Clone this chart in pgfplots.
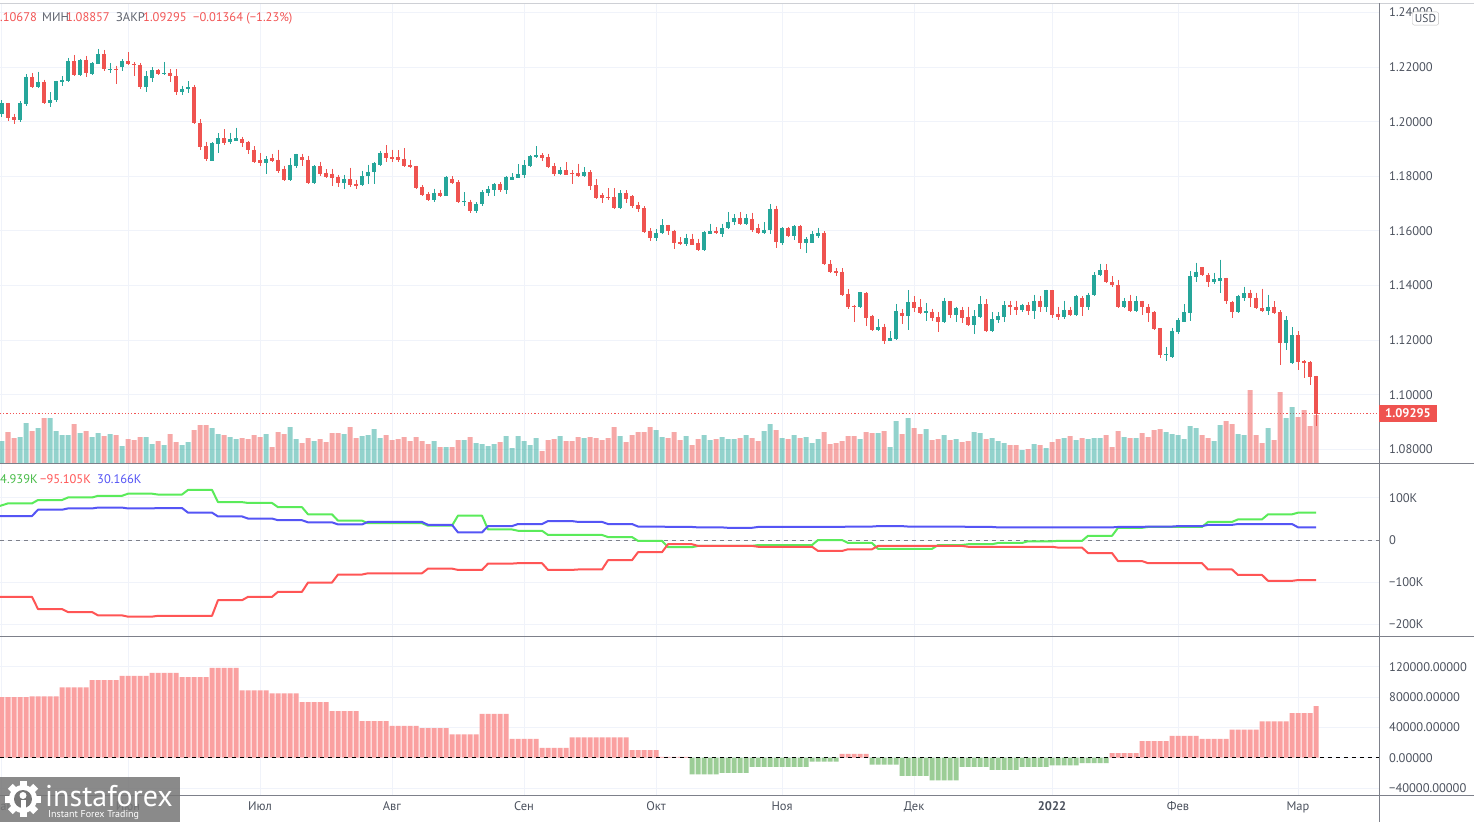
\documentclass[border=0pt]{standalone}
\usepackage{fontspec}
\setmainfont{PT Sans}
\usepackage{pgfplots}
\usepackage{pgfplotstable}
\pgfplotsset{compat=1.18}
\definecolor{cup}{RGB}{38,166,154}
\definecolor{cdn}{RGB}{239,83,80}
\definecolor{gridc}{RGB}{240,243,250}
\definecolor{labc}{RGB}{76,82,94}
\definecolor{sepc}{RGB}{125,128,138}
\definecolor{hpos}{RGB}{250,160,160}
\definecolor{hneg}{RGB}{155,205,150}
\definecolor{lgreen}{RGB}{90,235,90}
\definecolor{lred}{RGB}{255,85,85}
\definecolor{lblue}{RGB}{85,85,245}
\definecolor{txtred}{RGB}{242,85,85}
\definecolor{txtgray}{RGB}{95,99,110}
\definecolor{logogray}{RGB}{118,118,118}

% i open high low close volume(px)
\pgfplotstableread[row sep=\\]{
i o h l c v\\
0 1.2030 1.2078 1.2018 1.2067 22\\
1 1.2067 1.2069 1.2002 1.2013 31\\
2 1.2016 1.2030 1.1991 1.2006 25\\
3 1.2006 1.2074 1.1999 1.2067 26\\
4 1.2063 1.2173 1.2057 1.2165 40\\
5 1.2165 1.2179 1.2124 1.2126 32\\
6 1.2126 1.2183 1.2124 1.2147 35\\
7 1.2147 1.2154 1.2066 1.2068 45\\
8 1.2068 1.2107 1.2053 1.2081 45\\
9 1.2078 1.2150 1.2073 1.2148 32\\
10 1.2144 1.2167 1.2130 1.2152 28\\
11 1.2148 1.2234 1.2146 1.2223 28\\
12 1.2223 1.2245 1.2166 1.2170 39\\
13 1.2170 1.2230 1.2168 1.2227 30\\
14 1.2227 1.2241 1.2162 1.2179 32\\
15 1.2173 1.2218 1.2172 1.2216 26\\
16 1.2213 1.2267 1.2212 1.2248 30\\
17 1.2248 1.2263 1.2184 1.2192 27\\
18 1.2192 1.2215 1.2178 1.2194 29\\
19 1.2194 1.2205 1.2138 1.2191 28\\
20 1.2199 1.2228 1.2184 1.2221 17\\
21 1.2223 1.2255 1.2208 1.2210 24\\
22 1.2213 1.2218 1.2166 1.2206 23\\
23 1.2208 1.2215 1.2121 1.2126 26\\
24 1.2126 1.2185 1.2109 1.2168 26\\
25 1.2159 1.2200 1.2147 1.2189 19\\
26 1.2189 1.2193 1.2170 1.2173 22\\
27 1.2173 1.2219 1.2172 1.2179 18\\
28 1.2179 1.2193 1.2144 1.2166 29\\
29 1.2168 1.2193 1.2097 1.2108 21\\
30 1.2108 1.2132 1.2097 1.2121 18\\
31 1.2119 1.2149 1.2104 1.2128 21\\
32 1.2128 1.2136 1.1993 1.1995 33\\
33 1.1996 1.2009 1.1897 1.1908 38\\
34 1.1910 1.1927 1.1855 1.1864 38\\
35 1.1857 1.1924 1.1855 1.1921 35\\
36 1.1919 1.1958 1.1886 1.1939 29\\
37 1.1939 1.1972 1.1914 1.1923 28\\
38 1.1925 1.1960 1.1920 1.1935 26\\
39 1.1931 1.1978 1.1929 1.1939 24\\
40 1.1935 1.1945 1.1908 1.1921 25\\
41 1.1924 1.1930 1.1881 1.1896 24\\
42 1.1898 1.1910 1.1847 1.1854 28\\
43 1.1858 1.1886 1.1839 1.1847 26\\
44 1.1847 1.1874 1.1810 1.1864 29\\
45 1.1867 1.1883 1.1854 1.1856 16\\
46 1.1861 1.1898 1.1812 1.1821 31\\
47 1.1825 1.1839 1.1784 1.1787 29\\
48 1.1787 1.1867 1.1784 1.1843 36\\
49 1.1839 1.1883 1.1829 1.1880 24\\
50 1.1872 1.1883 1.1839 1.1858 20\\
51 1.1861 1.1876 1.1772 1.1776 25\\
52 1.1776 1.1840 1.1772 1.1837 22\\
53 1.1836 1.1854 1.1800 1.1810 24\\
54 1.1813 1.1825 1.1795 1.1799 21\\
55 1.1810 1.1828 1.1766 1.1795 30\\
56 1.1799 1.1806 1.1759 1.1777 30\\
57 1.1777 1.1806 1.1755 1.1791 29\\
58 1.1791 1.1832 1.1761 1.1769 36\\
59 1.1773 1.1788 1.1755 1.1766 25\\
60 1.1769 1.1821 1.1766 1.1802 27\\
61 1.1800 1.1843 1.1773 1.1817 28\\
62 1.1814 1.1852 1.1773 1.1847 34\\
63 1.1843 1.1893 1.1839 1.1887 25\\
64 1.1887 1.1913 1.1854 1.1866 28\\
65 1.1869 1.1898 1.1854 1.1864 23\\
66 1.1869 1.1896 1.1854 1.1861 24\\
67 1.1865 1.1902 1.1834 1.1837 26\\
68 1.1840 1.1861 1.1831 1.1833 22\\
69 1.1836 1.1839 1.1753 1.1757 26\\
70 1.1762 1.1769 1.1729 1.1733 22\\
71 1.1736 1.1743 1.1710 1.1714 19\\
72 1.1714 1.1755 1.1707 1.1740 22\\
73 1.1740 1.1751 1.1724 1.1729 16\\
74 1.1728 1.1802 1.1726 1.1796 16\\
75 1.1791 1.1800 1.1770 1.1776 16\\
76 1.1778 1.1785 1.1704 1.1706 23\\
77 1.1706 1.1741 1.1693 1.1710 23\\
78 1.1707 1.1715 1.1666 1.1673 26\\
79 1.1673 1.1705 1.1666 1.1700 20\\
80 1.1698 1.1749 1.1690 1.1741 19\\
81 1.1738 1.1763 1.1728 1.1752 17\\
82 1.1749 1.1776 1.1728 1.1771 19\\
83 1.1771 1.1778 1.1744 1.1749 21\\
84 1.1749 1.1802 1.1734 1.1796 27\\
85 1.1788 1.1811 1.1785 1.1796 15\\
86 1.1794 1.1844 1.1793 1.1807 27\\
87 1.1804 1.1859 1.1794 1.1840 22\\
88 1.1838 1.1878 1.1834 1.1873 18\\
89 1.1871 1.1910 1.1867 1.1878 25\\
90 1.1878 1.1885 1.1856 1.1867 12\\
91 1.1870 1.1883 1.1832 1.1834 23\\
92 1.1837 1.1849 1.1800 1.1807 24\\
93 1.1807 1.1834 1.1804 1.1822 27\\
94 1.1822 1.1851 1.1804 1.1806 22\\
95 1.1812 1.1822 1.1771 1.1807 22\\
96 1.1812 1.1846 1.1798 1.1800 26\\
97 1.1800 1.1833 1.1798 1.1815 25\\
98 1.1815 1.1822 1.1749 1.1763 26\\
99 1.1767 1.1790 1.1717 1.1719 25\\
100 1.1730 1.1739 1.1702 1.1719 23\\
101 1.1723 1.1756 1.1715 1.1719 25\\
102 1.1723 1.1756 1.1681 1.1683 36\\
103 1.1683 1.1749 1.1681 1.1738 27\\
104 1.1738 1.1749 1.1702 1.1716 21\\
105 1.1727 1.1730 1.1683 1.1690 28\\
106 1.1694 1.1706 1.1671 1.1679 31\\
107 1.1683 1.1690 1.1593 1.1595 31\\
108 1.1599 1.1610 1.1563 1.1573 36\\
109 1.1573 1.1606 1.1563 1.1591 33\\
110 1.1593 1.1642 1.1587 1.1620 26\\
111 1.1620 1.1623 1.1584 1.1599 25\\
112 1.1601 1.1605 1.1532 1.1554 31\\
113 1.1558 1.1577 1.1549 1.1551 23\\
114 1.1551 1.1590 1.1544 1.1574 27\\
115 1.1572 1.1590 1.1548 1.1550 18\\
116 1.1554 1.1572 1.1527 1.1529 24\\
117 1.1529 1.1600 1.1527 1.1595 28\\
118 1.1590 1.1627 1.1587 1.1598 23\\
119 1.1598 1.1613 1.1590 1.1594 24\\
120 1.1590 1.1627 1.1577 1.1612 26\\
121 1.1610 1.1670 1.1608 1.1634 24\\
122 1.1632 1.1661 1.1620 1.1649 24\\
123 1.1649 1.1670 1.1622 1.1624 25\\
124 1.1624 1.1661 1.1622 1.1649 28\\
125 1.1642 1.1667 1.1595 1.1605 25\\
126 1.1609 1.1627 1.1587 1.1594 22\\
127 1.1594 1.1631 1.1587 1.1605 32\\
128 1.1602 1.1697 1.1587 1.1682 39\\
129 1.1682 1.1693 1.1539 1.1561 33\\
130 1.1557 1.1613 1.1550 1.1610 25\\
131 1.1610 1.1615 1.1578 1.1580 24\\
132 1.1580 1.1621 1.1566 1.1617 28\\
133 1.1617 1.1620 1.1532 1.1554 25\\
134 1.1554 1.1576 1.1518 1.1572 26\\
135 1.1556 1.1598 1.1554 1.1587 20\\
136 1.1583 1.1612 1.1573 1.1594 24\\
137 1.1594 1.1598 1.1476 1.1478 31\\
138 1.1480 1.1492 1.1446 1.1448 19\\
139 1.1452 1.1464 1.1436 1.1445 20\\
140 1.1451 1.1464 1.1360 1.1366 22\\
141 1.1370 1.1388 1.1314 1.1320 27\\
142 1.1324 1.1330 1.1267 1.1320 27\\
143 1.1320 1.1377 1.1316 1.1375 24\\
144 1.1374 1.1376 1.1253 1.1280 31\\
145 1.1289 1.1293 1.1234 1.1236 30\\
146 1.1236 1.1277 1.1232 1.1249 30\\
147 1.1249 1.1260 1.1186 1.1197 32\\
148 1.1197 1.1232 1.1195 1.1207 16\\
149 1.1204 1.1333 1.1202 1.1305 42\\
150 1.1298 1.1314 1.1259 1.1288 29\\
151 1.1288 1.1382 1.1236 1.1338 45\\
152 1.1338 1.1360 1.1303 1.1319 35\\
153 1.1320 1.1349 1.1294 1.1298 29\\
154 1.1298 1.1336 1.1269 1.1306 34\\
155 1.1302 1.1315 1.1269 1.1281 23\\
156 1.1283 1.1302 1.1229 1.1265 24\\
157 1.1265 1.1356 1.1263 1.1342 28\\
158 1.1342 1.1345 1.1280 1.1292 23\\
159 1.1292 1.1323 1.1265 1.1316 24\\
160 1.1309 1.1323 1.1263 1.1280 21\\
161 1.1283 1.1323 1.1253 1.1255 22\\
162 1.1255 1.1309 1.1221 1.1287 31\\
163 1.1284 1.1360 1.1282 1.1331 30\\
164 1.1331 1.1349 1.1231 1.1233 24\\
165 1.1233 1.1302 1.1231 1.1276 25\\
166 1.1272 1.1302 1.1261 1.1287 22\\
167 1.1284 1.1342 1.1265 1.1327 20\\
168 1.1327 1.1345 1.1291 1.1321 18\\
169 1.1323 1.1345 1.1291 1.1309 18\\
170 1.1309 1.1334 1.1302 1.1327 13\\
171 1.1327 1.1338 1.1291 1.1305 14\\
172 1.1305 1.1367 1.1276 1.1345 19\\
173 1.1345 1.1360 1.1302 1.1320 18\\
174 1.1320 1.1385 1.1304 1.1382 15\\
175 1.1382 1.1384 1.1280 1.1291 21\\
176 1.1294 1.1323 1.1272 1.1283 24\\
177 1.1283 1.1345 1.1276 1.1312 25\\
178 1.1312 1.1323 1.1289 1.1291 27\\
179 1.1291 1.1367 1.1289 1.1360 23\\
180 1.1353 1.1360 1.1287 1.1321 25\\
181 1.1320 1.1374 1.1312 1.1367 24\\
182 1.1364 1.1449 1.1362 1.1440 25\\
183 1.1438 1.1480 1.1436 1.1455 25\\
184 1.1455 1.1479 1.1410 1.1412 28\\
185 1.1411 1.1433 1.1394 1.1401 16\\
186 1.1402 1.1421 1.1316 1.1320 32\\
187 1.1320 1.1355 1.1318 1.1342 26\\
188 1.1342 1.1367 1.1303 1.1305 25\\
189 1.1305 1.1360 1.1302 1.1345 25\\
190 1.1342 1.1345 1.1291 1.1321 30\\
191 1.1323 1.1331 1.1265 1.1298 26\\
192 1.1302 1.1305 1.1236 1.1239 33\\
193 1.1243 1.1245 1.1134 1.1146 34\\
194 1.1145 1.1173 1.1124 1.1148 31\\
195 1.1137 1.1246 1.1135 1.1232 29\\
196 1.1229 1.1280 1.1222 1.1272 28\\
197 1.1268 1.1331 1.1266 1.1302 24\\
198 1.1299 1.1452 1.1270 1.1433 37\\
199 1.1430 1.1484 1.1411 1.1451 35\\
200 1.1466 1.1468 1.1433 1.1438 28\\
201 1.1440 1.1445 1.1396 1.1411 25\\
202 1.1411 1.1447 1.1404 1.1422 22\\
203 1.1418 1.1495 1.1374 1.1426 38\\
204 1.1426 1.1429 1.1334 1.1342 42\\
205 1.1338 1.1345 1.1280 1.1302 39\\
206 1.1302 1.1367 1.1300 1.1360 29\\
207 1.1356 1.1396 1.1345 1.1372 28\\
208 1.1371 1.1385 1.1323 1.1354 73\\
209 1.1356 1.1374 1.1314 1.1316 28\\
210 1.1316 1.1389 1.1303 1.1305 20\\
211 1.1305 1.1367 1.1291 1.1323 35\\
212 1.1323 1.1342 1.1296 1.1298 23\\
213 1.1302 1.1309 1.1109 1.1188 71\\
214 1.1188 1.1287 1.1163 1.1272 45\\
215 1.1116 1.1247 1.1114 1.1218 56\\
216 1.1218 1.1232 1.1091 1.1120 46\\
217 1.1123 1.1126 1.1062 1.1115 53\\
218 1.1119 1.1122 1.1036 1.1066 37\\
219 1.10678 1.10700 1.08857 1.09295 48\\
}\candles

% weekly COT positions (thousands)
\pgfplotstableread[row sep=\\]{
x g r b\\
-0.34 81 -135 57\\
1 87 -135 57\\ 5 87 -135 57\\
6 95 -164 72\\ 10 95 -164 72\\
11 101 -171 75\\ 15 101 -171 75\\
16 105 -179 77\\ 20 105 -179 77\\
21 110 -182 75\\ 25 110 -182 75\\
26 108 -180 76\\ 30 108 -180 76\\
31 119 -180 65\\ 35 119 -180 65\\
36 90 -143 56\\ 40 90 -143 56\\
41 88 -135 51\\ 45 88 -135 51\\
46 78 -123 47\\ 50 78 -123 47\\
51 61 -101 42\\ 55 61 -101 42\\
56 46 -82 37\\ 60 46 -82 37\\
61 40 -79 43\\ 65 40 -79 43\\
66 40 -79 43\\ 70 40 -79 43\\
71 34 -68 36\\ 75 34 -68 36\\
76 58 -71 18\\ 80 58 -71 18\\
81 25 -56 33\\ 85 25 -56 33\\
86 22 -55 38\\ 90 22 -55 38\\
91 12 -71 45\\ 95 12 -71 45\\
96 12 -70 43\\ 100 12 -70 43\\
101 7 -48 38\\ 105 7 -48 38\\
106 -2 -29 32\\ 110 -2 -29 32\\
111 -17 -10 31\\ 115 -17 -10 31\\
116 -14 -14 30\\ 120 -14 -14 30\\
121 -14 -14 29\\ 125 -14 -14 29\\
126 -12 -16 31\\ 130 -12 -16 31\\
131 -12 -16 31\\ 135 -12 -16 31\\
136 0 -26 31\\ 140 0 -26 31\\
141 -7 -22 32\\ 145 -7 -22 32\\
146 -21 -14 33\\ 150 -21 -14 33\\
151 -21 -14 32\\ 155 -21 -14 32\\
156 -12 -14 32\\ 160 -12 -14 32\\
161 -10 -16 31\\ 165 -10 -16 31\\
166 -7 -16 30\\ 170 -7 -16 30\\
171 -3 -16 30\\ 175 -3 -16 30\\
176 -2 -18 30\\ 180 -2 -18 30\\
181 10 -31 30\\ 185 10 -31 30\\
186 29 -50 31\\ 190 29 -50 31\\
191 31 -55 32\\ 195 31 -55 32\\
196 31 -55 33\\ 200 31 -55 33\\
201 43 -70 36\\ 205 43 -70 36\\
206 49 -83 38\\ 210 49 -83 38\\
211 61 -97 38\\ 215 61 -97 38\\
216 64.939 -95.105 30.166\\ 219 64.939 -95.105 30.166\\
}\cot

% histogram (thousands)
\pgfplotstableread[row sep=\\]{
i h\\
0 80\\ 1 80\\ 2 80\\ 3 80\\ 4 80\\
5 81\\ 6 81\\ 7 81\\ 8 81\\ 9 81\\
10 93\\ 11 93\\ 12 93\\ 13 93\\ 14 93\\
15 102.5\\ 16 102.5\\ 17 102.5\\ 18 102.5\\ 19 102.5\\
20 108\\ 21 108\\ 22 108\\ 23 108\\ 24 108\\
25 112\\ 26 112\\ 27 112\\ 28 112\\ 29 112\\
30 106.5\\ 31 106.5\\ 32 106.5\\ 33 106.5\\ 34 106.5\\
35 118.5\\ 36 118.5\\ 37 118.5\\ 38 118.5\\ 39 118.5\\
40 89\\ 41 89\\ 42 89\\ 43 89\\ 44 89\\
45 85\\ 46 85\\ 47 85\\ 48 85\\ 49 85\\
50 73.5\\ 51 73.5\\ 52 73.5\\ 53 73.5\\ 54 73.5\\
55 61.5\\ 56 61.5\\ 57 61.5\\ 58 61.5\\ 59 61.5\\
60 48.5\\ 61 48.5\\ 62 48.5\\ 63 48.5\\ 64 48.5\\
65 42\\ 66 42\\ 67 42\\ 68 42\\ 69 42\\
70 39\\ 71 39\\ 72 39\\ 73 39\\ 74 39\\
75 31\\ 76 31\\ 77 31\\ 78 31\\ 79 31\\
80 58\\ 81 58\\ 82 58\\ 83 58\\ 84 58\\
85 25\\ 86 25\\ 87 25\\ 88 25\\ 89 25\\
90 13\\ 91 13\\ 92 13\\ 93 13\\ 94 13\\
95 27\\ 96 27\\ 97 27\\ 98 27\\ 99 27\\
100 27\\ 101 27\\ 102 27\\ 103 27\\ 104 27\\
105 10\\ 106 10\\ 107 10\\ 108 10\\ 109 10\\
110 1\\ 111 1\\ 112 1\\ 113 1\\ 114 1\\
115 -22\\ 116 -22\\ 117 -22\\ 118 -22\\ 119 -22\\
120 -20\\ 121 -20\\ 122 -20\\ 123 -20\\ 124 -20\\
125 -12\\ 126 -12\\ 127 -12\\ 128 -12\\ 129 -12\\
130 -12\\ 131 -12\\ 132 -12\\ 133 -12\\ 134 -12\\
135 -5\\ 136 -5\\ 137 -5\\ 138 -5\\ 139 -5\\
140 5\\ 141 5\\ 142 5\\ 143 5\\ 144 5\\
145 -9\\ 146 -9\\ 147 -9\\ 148 -9\\ 149 -9\\
150 -24\\ 151 -24\\ 152 -24\\ 153 -24\\ 154 -24\\
155 -30\\ 156 -30\\ 157 -30\\ 158 -30\\ 159 -30\\
160 -12\\ 161 -12\\ 162 -12\\ 163 -12\\ 164 -12\\
165 -16\\ 166 -16\\ 167 -16\\ 168 -16\\ 169 -16\\
170 -12\\ 171 -12\\ 172 -12\\ 173 -12\\ 174 -12\\
175 -10\\ 176 -10\\ 177 -10\\ 178 -10\\ 179 -10\\
180 -7\\ 181 -7\\ 182 -7\\ 183 -7\\ 184 -7\\
185 6\\ 186 6\\ 187 6\\ 188 6\\ 189 6\\
190 22\\ 191 22\\ 192 22\\ 193 22\\ 194 22\\
195 29\\ 196 29\\ 197 29\\ 198 29\\ 199 29\\
200 25\\ 201 25\\ 202 25\\ 203 25\\ 204 25\\
205 37\\ 206 37\\ 207 37\\ 208 37\\ 209 37\\
210 48\\ 211 48\\ 212 48\\ 213 48\\ 214 48\\
215 59\\ 216 59\\ 217 59\\ 218 59\\ 219 68\\
}\hist

\pgfplotsset{panel/.style={
  scale only axis, width=1379pt, xmin=-0.3333, xmax=229.5,
  axis line style={draw=none}, major tick length=0pt, tick style={draw=none},
  xtick={0,21,43,65,87,109,130,152,175,196,216}, xticklabels={},
  xmajorgrids, ymajorgrids, grid style={draw=gridc, line width=1pt},
  yticklabel pos=right,
  ticklabel style={font=\fontsize{12.5}{14}\selectfont, text=labc},
  yticklabel style={anchor=west, inner sep=0pt, xshift=10pt},
},
candle/.style={forget plot, only marks, mark=*, mark size=0pt,
  mark options={draw opacity=0, fill opacity=0}}}

\begin{document}
\begin{tikzpicture}
\path[use as bounding box] (0pt,0pt) rectangle (1474pt,-822pt);
\fill[white] (0pt,0pt) rectangle (1474pt,-822pt);

% ---------- price panel ----------
\begin{axis}[panel, at={(0pt,-463pt)}, anchor=south west, height=459pt,
  ymin=1.07498, ymax=1.24311,
  ytick={1.08,1.10,1.12,1.14,1.16,1.18,1.20,1.22,1.24},
  yticklabels={1.08000,1.10000,1.12000,1.14000,1.16000,1.18000,1.20000,1.22000,1.24000}]
\addplot[txtred, line width=1pt, dash pattern=on 1.2pt off 2pt] coordinates {(-0.34,1.09295) (229.5,1.09295)};
% wicks
\addplot[candle,
  restrict expr to domain={\thisrow{c}-\thisrow{o}}{0:1},
  error bars/.cd, y dir=minus, y explicit, error mark=none,
  error bar style={line width=1pt, draw=cup}]
  table[x=i, y=h, y error expr=\thisrow{h}-\thisrow{l}] {\candles};
\addplot[candle,
  restrict expr to domain={\thisrow{o}-\thisrow{c}}{0.00001:1},
  error bars/.cd, y dir=minus, y explicit, error mark=none,
  error bar style={line width=1pt, draw=cdn}]
  table[x=i, y=h, y error expr=\thisrow{h}-\thisrow{l}] {\candles};
% bodies
\addplot[candle,
  restrict expr to domain={\thisrow{c}-\thisrow{o}}{0:1},
  error bars/.cd, y dir=minus, y explicit, error mark=none,
  error bar style={line width=4.2pt, draw=cup}]
  table[x=i, y=c, y error expr=\thisrow{c}-\thisrow{o}] {\candles};
\addplot[candle,
  restrict expr to domain={\thisrow{o}-\thisrow{c}}{0.00001:1},
  error bars/.cd, y dir=minus, y explicit, error mark=none,
  error bar style={line width=4.2pt, draw=cdn}]
  table[x=i, y=o, y error expr=\thisrow{o}-\thisrow{c}] {\candles};
\end{axis}

% ---------- volume overlay ----------
\begin{axis}[panel, at={(0pt,-463pt)}, anchor=south west, height=459pt,
  ymin=0, ymax=459, xmajorgrids=false, ymajorgrids=false, ytick=\empty, xtick=\empty]
\addplot[ybar, bar width=5pt, bar shift=0pt, fill=cup, fill opacity=0.5, draw=none,
  restrict expr to domain={\thisrow{c}-\thisrow{o}}{0:1}] table[x=i, y=v] {\candles};
\addplot[ybar, bar width=5pt, bar shift=0pt, fill=cdn, fill opacity=0.5, draw=none,
  restrict expr to domain={\thisrow{o}-\thisrow{c}}{0.00001:1}] table[x=i, y=v] {\candles};
\end{axis}

% ---------- COT panel ----------
\begin{axis}[panel, at={(0pt,-636pt)}, anchor=south west, height=173pt,
  ymin=-228, ymax=182.9, ytick={-200,-100,0,100},
  yticklabels={−200K,−100K,0,100K}]
\addplot[sepc, line width=1pt, dash pattern=on 4pt off 4pt] coordinates {(-0.34,0) (229.5,0)};
\addplot[lgreen, line width=2pt, line join=round] table[x=x, y=g] {\cot};
\addplot[lred, line width=2pt, line join=round] table[x=x, y=r] {\cot};
\addplot[lblue, line width=2pt, line join=round] table[x=x, y=b] {\cot};
\end{axis}

% ---------- histogram panel ----------
\begin{axis}[panel, at={(0pt,-795pt)}, anchor=south west, height=159pt,
  ymin=-49.2, ymax=160.7, ytick={-40,0,40,80,120},
  yticklabels={−40000.00000,0.00000,40000.00000,80000.00000,120000.00000},
  xticklabels={Май,Июн,Июл,Авг,Сен,Окт,Ноя,Дек,\textbf{2022},Фев,Мар},
  xticklabel style={anchor=base, yshift=-15pt, inner sep=0pt}]
\addplot[ybar, bar width=5pt, bar shift=0pt, fill=hpos, draw=none,
  restrict y to domain=0:500] table[x=i, y=h] {\hist};
\addplot[ybar, bar width=5pt, bar shift=0pt, fill=hneg, draw=none,
  restrict y to domain=-500:-0.001] table[x=i, y=h] {\hist};
\addplot[black, line width=1pt, dash pattern=on 4pt off 4pt] coordinates {(-0.34,0) (229.5,0)};
\end{axis}

% ---------- separators ----------
\draw[gridc!70!gray, line width=1pt] (0pt,-3pt) -- (1474pt,-3pt);
\draw[sepc, line width=1pt] (0pt,-463.5pt) -- (1474pt,-463.5pt);
\draw[sepc, line width=1pt] (0pt,-636pt) -- (1474pt,-636pt);
\draw[sepc, line width=1pt] (0pt,-795pt) -- (1474pt,-795pt);
\draw[sepc, line width=1pt] (1379pt,-3pt) -- (1379pt,-822pt);

% ---------- header texts ----------
\begin{scope}[every node/.style={anchor=base west, inner sep=0pt, font=\fontsize{12.5}{14}\selectfont}]
\node[text=txtred] at (0pt,-21.7pt) {.10678};
\node[text=txtgray] at (42pt,-21.7pt) {МИН};
\node[text=txtred] at (66pt,-21.7pt) {1.08857};
\node[text=txtgray] at (116pt,-21.7pt) {ЗАКР};
\node[text=txtred] at (143pt,-21.7pt) {1.09295};
\node[text=txtred] at (193pt,-21.7pt) {−0.01364 (−1.23\%)};
\node[text=lgreen!80!black] at (0pt,-483pt) {4.939K};
\node[text=lred] at (40pt,-483pt) {−95.105K};
\node[text=lblue] at (97pt,-483pt) {30.166K};
\end{scope}

% USD box and last price label
\node[draw=gray!50, rounded corners=2pt, fill=white, inner sep=2.5pt, text=labc,
  font=\fontsize{11.5}{13}\selectfont] at (1425.5pt,-18.5pt) {USD};
\node[fill=cdn, text=white, minimum width=58pt, minimum height=17pt, inner sep=0pt,
  font=\fontsize{12.5}{14}\selectfont\bfseries] at (1408pt,-413pt) {1.09295};

% ---------- logo ----------
\fill[logogray, fill opacity=0.85] (0pt,-777pt) rectangle (180pt,-822pt);
\begin{scope}[shift={(23pt,-799pt)}]
\fill[white] (0pt,0pt) circle (14pt);
\foreach \a in {0,45,...,315} \fill[white, rotate=\a] (-3.5pt,11pt) rectangle (3.5pt,18pt);
\fill[logogray] (0pt,0pt) circle (9pt);
\fill[white] (0pt,3.5pt) circle (3.5pt);
\fill[white] (-2.5pt,-1pt) rectangle (2.5pt,-12pt);
\end{scope}
\node[anchor=base west, inner sep=0pt, text=white, font=\fontsize{30}{32}\selectfont] at (45pt,-806.5pt) {instaforex};
\node[anchor=base west, inner sep=0pt, text=white, font=\fontsize{10}{12}\selectfont] at (48pt,-817.5pt) {Instant Forex Trading};
\end{tikzpicture}
\end{document}
